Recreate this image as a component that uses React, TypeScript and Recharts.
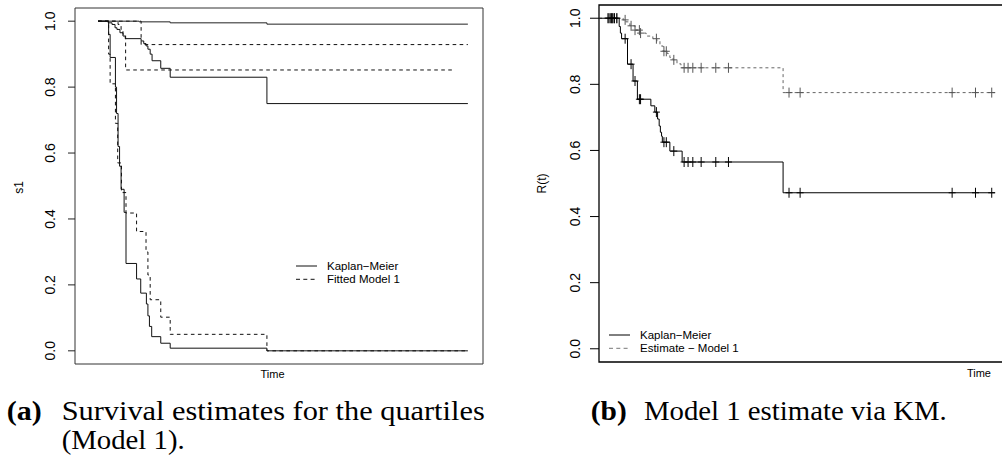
import React from 'react';
import { LineChart, Line, XAxis, YAxis, ReferenceArea, Legend } from 'recharts';

const SANS = '"Liberation Sans", Arial, Helvetica, sans-serif';
const SERIF = '"Liberation Serif", "Times New Roman", serif';

// shared y ticks
const yTicks = [0, 0.2, 0.4, 0.6, 0.8, 1.0];

// ---------- Panel (a): survival estimates for the quartiles ----------
const aDomain = [-40, 1040];
const aKmQ1Time = [21, 130, 212, 468, 1000];
const aKmQ1Surv = [1.0, 0.998, 0.995, 0.991, 0.991];
const aKmQ2Time = [21, 48, 58, 66, 71, 79, 87, 93, 135, 142, 148, 153, 159, 164, 187, 212, 468, 1000];
const aKmQ2Surv = [1.0, 0.995, 0.99, 0.98, 0.975, 0.965, 0.955, 0.947, 0.94, 0.932, 0.925, 0.915, 0.9, 0.88, 0.857, 0.83, 0.75, 0.75];
const aKmQ4Time = [21, 49, 53, 67, 70, 74, 78, 82, 90, 95, 123, 134, 149, 153, 157, 163, 187, 212, 468, 1000];
const aKmQ4Surv = [1.0, 0.96, 0.89, 0.8, 0.72, 0.62, 0.56, 0.49, 0.42, 0.265, 0.218, 0.175, 0.142, 0.106, 0.074, 0.043, 0.023, 0.008, 0, 0];
const aFitQ2Time = [21, 135, 1000];
const aFitQ2Surv = [1.0, 0.929, 0.929];
const aFitQ3Time = [21, 74, 82, 87, 94, 958];
const aFitQ3Surv = [1.0, 0.99, 0.975, 0.96, 0.852, 0.852];
const aFitQ4Time = [21, 49, 53, 67, 73, 83, 95, 123, 148, 153, 159, 187, 212, 468, 1000];
const aFitQ4Surv = [1.0, 0.9, 0.81, 0.69, 0.57, 0.48, 0.418, 0.362, 0.3, 0.23, 0.155, 0.102, 0.05, 0, 0];
const aLegendNames = ['Kaplan\u2212Meier', 'Fitted Model 1'];

// ---------- Panel (b): Model 1 estimate via KM ----------
const bDomain = [0, 1023];
const bKmTime = [0, 51, 54, 57, 72, 86, 97, 131, 141, 148, 152, 155, 158, 160, 179, 210, 465, 1000];
const bKmSurv = [1, 0.975, 0.955, 0.938, 0.861, 0.81, 0.755, 0.735, 0.716, 0.695, 0.674, 0.655, 0.643, 0.625, 0.598, 0.565, 0.472, 0.472];
const bEstTime = [0, 61, 68, 78, 91, 104, 119, 136, 146, 154, 162, 172, 179, 187, 197, 207, 465, 1000];
const bEstSurv = [1, 0.995, 0.989, 0.977, 0.964, 0.955, 0.946, 0.938, 0.931, 0.916, 0.9, 0.893, 0.881, 0.874, 0.862, 0.85, 0.775, 0.775];
const bCensorTime = [23, 28, 32, 35, 39, 45, 66, 81, 91, 102, 105, 145, 164, 170, 189, 215, 225, 237, 258, 295, 327, 480, 508, 892, 951, 992];
const bLegendNames = ['Kaplan\u2212Meier', 'Estimate \u2212 Model 1'];

type Pt = { t: number; s: number; c?: boolean };

const toSteps = (times: number[], surv: number[]): Pt[] => times.map((t, i) => ({ t, s: surv[i] }));

const stepValue = (times: number[], surv: number[], t: number) => {
  let v = surv[0];
  for (let i = 0; i < times.length; i++) if (times[i] <= t) v = surv[i];
  return v;
};

const withCensor = (times: number[], surv: number[], cens: number[]): Pt[] => {
  const pts: Pt[] = toSteps(times, surv).concat(cens.map((t) => ({ t, s: stepValue(times, surv, t), c: true })));
  return pts.sort((a, b) => a.t - b.t);
};

const makeCensorDot = (color: string) => (props: any) => {
  const { cx, cy, payload, index } = props;
  if (!payload || !payload.c || cx == null || cy == null) return <g key={`d${index}`} />;
  return (
    <path
      key={`d${index}`}
      d={`M${cx - 3.5},${cy}H${cx + 3.5}M${cx},${cy - 5}V${cy + 5}`}
      stroke={color}
      strokeWidth={1}
      fill="none"
    />
  );
};

const RotTick = (props: any) => {
  const { x, y, payload } = props;
  return (
    <text
      x={x}
      y={y}
      transform={`rotate(-90 ${x} ${y})`}
      textAnchor="middle"
      fontSize={14}
      fontFamily={SANS}
      fill="#000"
    >
      {Number(payload.value).toFixed(1)}
    </text>
  );
};

const yTitle = (text: string, dx: number, dy: number) => (p: any) => {
  const vb = p.viewBox || {};
  const x = (vb.x || 0) + dx;
  const y = (vb.y || 0) + (vb.height || 0) / 2 + dy;
  return (
    <text x={x} y={y} transform={`rotate(-90 ${x} ${y})`} textAnchor="middle" fontSize={12} fontFamily={SANS} fill="#000">
      {text}
    </text>
  );
};

const xTitle = (mode: 'center' | 'right', dx: number, dy: number) => (p: any) => {
  const vb = p.viewBox || {};
  const x = mode === 'center' ? (vb.x || 0) + (vb.width || 0) / 2 + dx : (vb.x || 0) + (vb.width || 0) + dx;
  const y = (vb.y || 0) + dy;
  return (
    <text x={x} y={y} textAnchor={mode === 'center' ? 'middle' : 'end'} fontSize={11} fontFamily={SANS} fill="#000">
      Time
    </text>
  );
};

const legendContent = (names: string[], styles: { stroke: string; dash?: string }[]) => () => (
  <svg width={150} height={30} style={{ display: 'block' }}>
    {names.map((n, i) => (
      <g key={n}>
        <line x1={5} x2={26} y1={8 + i * 13.3} y2={8 + i * 13.3} stroke={styles[i].stroke} strokeWidth={1} strokeDasharray={styles[i].dash} />
        <text x={36} y={8 + i * 13.3} dominantBaseline="central" fontSize={11.5} fontFamily={SANS} fill="#000">
          {n}
        </text>
      </g>
    ))}
  </svg>
);

const DASH = '3.6 3.4';

const aSeries = [
  { key: 'fq2', time: aFitQ2Time, surv: aFitQ2Surv, stroke: '#111', dash: DASH },
  { key: 'fq3', time: aFitQ3Time, surv: aFitQ3Surv, stroke: '#111', dash: DASH },
  { key: 'fq4', time: aFitQ4Time, surv: aFitQ4Surv, stroke: '#111', dash: DASH },
  { key: 'kq1', time: aKmQ1Time, surv: aKmQ1Surv, stroke: '#222', dash: undefined },
  { key: 'kq2', time: aKmQ2Time, surv: aKmQ2Surv, stroke: '#111', dash: undefined },
  { key: 'kq4', time: aKmQ4Time, surv: aKmQ4Surv, stroke: '#111', dash: undefined },
];

const PanelA = () => (
  <LineChart width={500} height={385} margin={{ top: 8, right: 17, bottom: 0, left: 0 }}>
    <XAxis
      type="number"
      dataKey="t"
      domain={aDomain}
      allowDataOverflow
      tick={false}
      tickLine={false}
      axisLine={false}
      height={21}
      label={xTitle('center', -6.5, 14)}
    />
    <YAxis
      type="number"
      dataKey="s"
      domain={[-0.04, 1.04]}
      allowDataOverflow
      ticks={yTicks}
      width={75}
      axisLine={false}
      tickSize={7}
      tickMargin={13}
      tickLine={{ stroke: '#222' }}
      tick={<RotTick />}
      label={yTitle('s1', 23, 1.5)}
    />
    <ReferenceArea x1={aDomain[0]} x2={aDomain[1]} y1={-0.04} y2={1.04} fill="none" stroke="#333" strokeWidth={1} ifOverflow="visible" />
    {aSeries.map((s) => (
      <Line
        key={s.key}
        data={toSteps(s.time, s.surv)}
        dataKey="s"
        type="stepAfter"
        stroke={s.stroke}
        strokeWidth={1}
        strokeDasharray={s.dash}
        dot={false}
        activeDot={false}
        isAnimationActive={false}
      />
    ))}
    <Legend
      layout="vertical"
      align="center"
      verticalAlign="middle"
      wrapperStyle={{ left: 291, top: 258, width: 150, height: 30 }}
      content={legendContent(aLegendNames, [{ stroke: '#111' }, { stroke: '#111', dash: '4 3.3' }])}
    />
  </LineChart>
);

const PanelB = () => (
  <LineChart width={500} height={385} margin={{ top: 5, right: 6, bottom: 0, left: 0 }}>
    <XAxis
      type="number"
      dataKey="t"
      domain={bDomain}
      allowDataOverflow
      tick={false}
      tickLine={false}
      axisLine={false}
      height={23}
      label={xTitle('right', -13, 14.5)}
    />
    <YAxis
      type="number"
      dataKey="s"
      domain={[-0.04, 1.04]}
      allowDataOverflow
      ticks={yTicks}
      width={89}
      axisLine={false}
      tickSize={9}
      tickMargin={10}
      tickLine={{ stroke: '#000' }}
      tick={<RotTick />}
      label={yTitle('R(t)', 36, 0)}
    />
    <ReferenceArea x1={bDomain[0]} x2={bDomain[1]} y1={-0.04} y2={1.04} fill="none" stroke="#000" strokeWidth={1.3} ifOverflow="visible" />
    <Line
      data={withCensor(bEstTime, bEstSurv, bCensorTime)}
      dataKey="s"
      type="stepAfter"
      stroke="#666"
      strokeWidth={1}
      strokeDasharray="3 3"
      dot={makeCensorDot('#555')}
      activeDot={false}
      isAnimationActive={false}
    />
    <Line
      data={withCensor(bKmTime, bKmSurv, bCensorTime)}
      dataKey="s"
      type="stepAfter"
      stroke="#000"
      strokeWidth={1}
      dot={makeCensorDot('#000')}
      activeDot={false}
      isAnimationActive={false}
    />
    <Legend
      layout="vertical"
      align="center"
      verticalAlign="middle"
      wrapperStyle={{ left: 94, top: 327, width: 150, height: 30 }}
      content={legendContent(bLegendNames, [{ stroke: '#000' }, { stroke: '#777', dash: '4 3.3' }])}
    />
  </LineChart>
);

const Captions = () => (
  <svg width={1002} height={80} style={{ position: 'absolute', left: 0, top: 380 }}>
    <g fontFamily={SERIF} fontSize={27} fill="#000">
      <text x={6.7} y={40} fontWeight="bold" textLength={35} lengthAdjust="spacingAndGlyphs">(a)</text>
      <text x={61.7} y={40} textLength={423} lengthAdjust="spacingAndGlyphs">Survival estimates for the quartiles</text>
      <text x={61.7} y={69} textLength={123} lengthAdjust="spacingAndGlyphs">(Model 1).</text>
      <text x={590.7} y={40} fontWeight="bold" textLength={36} lengthAdjust="spacingAndGlyphs">(b)</text>
      <text x={644} y={40} textLength={302.7} lengthAdjust="spacingAndGlyphs">Model 1 estimate via KM.</text>
    </g>
  </svg>
);

export default function App() {
  return (
    <div style={{ position: 'absolute', left: 0, top: 0, width: 1002, height: 460, overflow: 'hidden', background: '#fff' }}>
      <div style={{ position: 'absolute', left: 0, top: 0 }}>
        <PanelA />
      </div>
      <div style={{ position: 'absolute', left: 510, top: 0 }}>
        <PanelB />
      </div>
      <Captions />
    </div>
  );
}
